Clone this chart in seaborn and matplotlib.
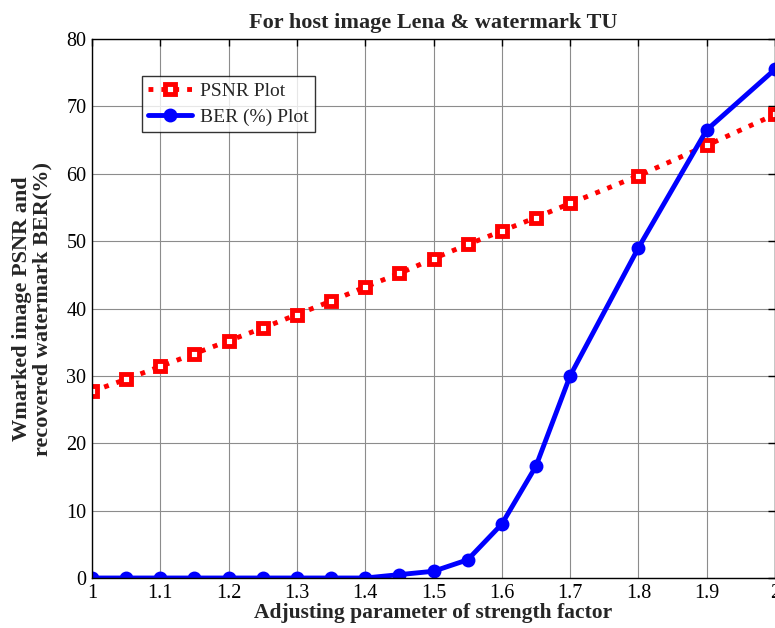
import matplotlib
matplotlib.use("Agg")
import matplotlib.pyplot as plt
import seaborn as sns
import pandas as pd

x_vals = [1.0, 1.05, 1.1, 1.15, 1.2, 1.25, 1.3, 1.35, 1.4, 1.45, 1.5, 1.55, 1.6, 1.65, 1.7, 1.8, 1.9, 2.0]
psnr_vals = [27.7, 29.5, 31.4, 33.3, 35.2, 37.1, 39.1, 41.1, 43.2, 45.2, 47.4, 49.5, 51.5, 53.5, 55.6, 59.7, 64.2, 68.8]
ber_vals = [0.0, 0.0, 0.0, 0.0, 0.0, 0.0, 0.0, 0.0, 0.0, 0.5, 1.0, 2.7, 8.0, 16.6, 30.0, 49.0, 66.5, 75.5]
x_ticks = [1.0, 1.1, 1.2, 1.3, 1.4, 1.5, 1.6, 1.7, 1.8, 1.9, 2.0]
x_tick_labels = ["1", "1.1", "1.2", "1.3", "1.4", "1.5", "1.6", "1.7", "1.8", "1.9", "2"]
y_ticks = [0, 10, 20, 30, 40, 50, 60, 70, 80]

sns.set_style("white")
plt.rcParams['font.family'] = ['Liberation Serif', 'DejaVu Serif']

df = pd.DataFrame({"x": x_vals, "psnr": psnr_vals, "ber": ber_vals})

fig = plt.figure(figsize=(7.75, 6.28), dpi=100)
ax = fig.add_axes([92/775, 1 - 578/628, (775 - 92)/775, (578 - 39)/628])

sns.lineplot(data=df, x="x", y="psnr", ax=ax, color="red", linestyle=":", linewidth=3.5,
             marker="s", markersize=6.5, markerfacecolor="white", markeredgecolor="red",
             markeredgewidth=3.5, label="PSNR Plot")
sns.lineplot(data=df, x="x", y="ber", ax=ax, color="blue", linestyle="-", linewidth=3.5,
             marker="o", markersize=8.5, markerfacecolor="blue", markeredgecolor="blue",
             markeredgewidth=1.5, label="BER (%) Plot")

ax.set_xlim(1.0, 2.0)
ax.set_ylim(0, 80)
ax.set_xticks(x_ticks)
ax.set_xticklabels(x_tick_labels)
ax.set_yticks(y_ticks)
ax.grid(True, color="0.55", linewidth=0.8, linestyle="-")
ax.set_axisbelow(True)
for s in ax.spines.values():
    s.set_color("black")
    s.set_linewidth(1.0)
ax.tick_params(direction="in", top=True, right=True, length=5, width=1,
               labelsize=14.5, pad=4, colors="black")

ax.set_title("For host image Lena & watermark TU", fontsize=16, fontweight="bold", pad=8)
ax.set_xlabel("Adjusting parameter of strength factor", fontsize=15.5, fontweight="bold", labelpad=0)
ax.set_ylabel("Wmarked image PSNR and\nrecovered watermark BER(%)", fontsize=16,
              fontweight="bold", labelpad=10, linespacing=1.0)

leg = ax.legend(loc="upper left", bbox_to_anchor=(0.073, 0.931), borderaxespad=0,
                fontsize=14, frameon=True, fancybox=False, handlelength=2.3,
                borderpad=0.3, labelspacing=0.45, handletextpad=0.4)
leg.get_frame().set_edgecolor("black")
leg.get_frame().set_linewidth(1.0)

fig.savefig("out.png", dpi=100)
